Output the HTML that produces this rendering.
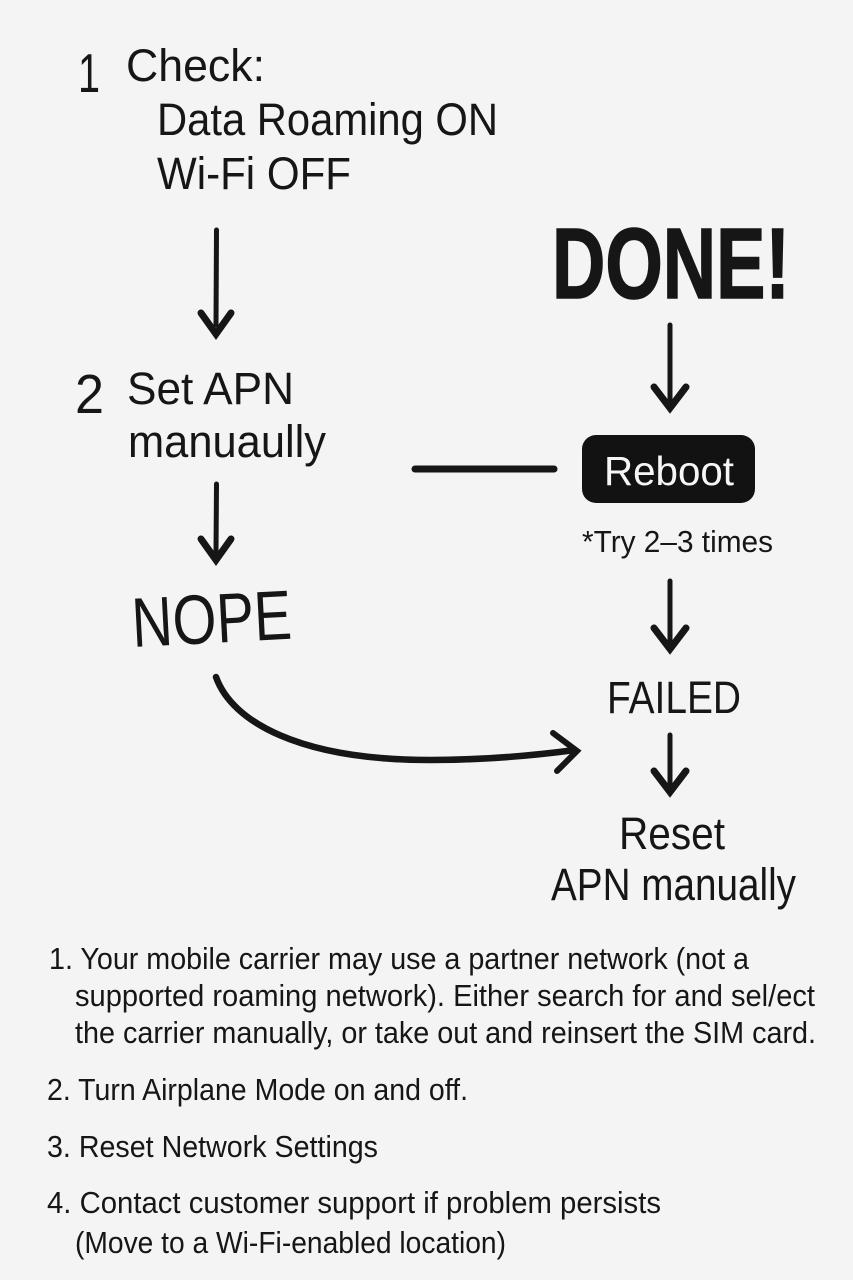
<!DOCTYPE html>
<html lang="en">
<head>
<meta charset="utf-8">
<title>APN troubleshooting flow</title>
<style>
html,body{margin:0;padding:0;background:#f4f4f4;width:853px;height:1280px;overflow:hidden}
svg{display:block}
text{font-family:"Liberation Sans",sans-serif;fill:#161616}
.h{font-size:45px}
.b{font-size:31px}
.s{fill:none;stroke:#161616;stroke-width:5;stroke-linecap:round}
.a{fill:none;stroke:#161616;stroke-width:7;stroke-linecap:round;stroke-linejoin:miter;stroke-miterlimit:6}
</style>
</head>
<body>
<svg width="853" height="1280" viewBox="0 0 853 1280" xmlns="http://www.w3.org/2000/svg">
<rect width="853" height="1280" fill="#f4f4f4"/>

<text x="78" y="92" font-size="55" textLength="22" lengthAdjust="spacingAndGlyphs">1</text>
<text class="h" x="126" y="81" textLength="139" lengthAdjust="spacingAndGlyphs">Check:</text>
<text class="h" x="157" y="135" textLength="341" lengthAdjust="spacingAndGlyphs">Data Roaming ON</text>
<text class="h" x="157" y="189" textLength="194" lengthAdjust="spacingAndGlyphs">Wi-Fi OFF</text>

<text x="75" y="413" font-size="55" textLength="29" lengthAdjust="spacingAndGlyphs">2</text>
<text class="h" x="127" y="404" textLength="167" lengthAdjust="spacingAndGlyphs">Set APN</text>
<text class="h" x="128" y="457" textLength="198" lengthAdjust="spacingAndGlyphs">manuaully</text>

<text x="552" y="298" font-size="100" font-weight="700" textLength="238" lengthAdjust="spacingAndGlyphs" stroke="#161616" stroke-width="1.500">DONE!</text>

<path class="s" d="M216.500 230L216 325"/><path class="a" d="M201 313L216 334L231 313"/>
<path class="s" d="M670 325V400"/><path class="a" d="M654 387L670 408L686 387"/>
<path class="s" d="M216.500 484L216 552"/><path class="a" d="M201 539L216 560L231 539"/>
<path class="s" d="M670 581V642"/><path class="a" d="M654 628L670 649L686 628"/>
<path class="s" d="M670 735V785"/><path class="a" d="M654 771L670 792L686 771"/>

<path d="M415 469H554" fill="none" stroke="#161616" stroke-width="7" stroke-linecap="round"/>

<rect x="582" y="435" width="173" height="68" rx="14" fill="#121212"/>
<text x="604" y="485" font-size="41" textLength="130" lengthAdjust="spacingAndGlyphs" style="fill:#f6f6f6">Reboot</text>

<text x="582" y="552" font-size="31" textLength="191" lengthAdjust="spacingAndGlyphs">*Try 2–3 times</text>

<text x="133" y="647" font-size="70" textLength="160" lengthAdjust="spacingAndGlyphs" transform="rotate(-3 133 647)">NOPE</text>

<path d="M216 677C232 722 300 760 430 760C480 760 530 756 575 750" fill="none" stroke="#161616" stroke-width="6.500" stroke-linecap="round"/>
<path class="a" style="stroke-width:6" d="M553 733L577 751L557 771"/>

<text class="h" x="607" y="713" textLength="134" lengthAdjust="spacingAndGlyphs">FAILED</text>
<text class="h" x="619" y="849" textLength="106" lengthAdjust="spacingAndGlyphs">Reset</text>
<text class="h" x="551" y="900" textLength="245" lengthAdjust="spacingAndGlyphs">APN manually</text>

<text class="b" x="49" y="969" textLength="700" lengthAdjust="spacingAndGlyphs">1. Your mobile carrier may use a partner network (not a</text>
<text class="b" x="75" y="1006" textLength="740" lengthAdjust="spacingAndGlyphs">supported roaming network). Either search for and sel/ect</text>
<text class="b" x="75" y="1043" textLength="741" lengthAdjust="spacingAndGlyphs">the carrier manually, or take out and reinsert the SIM card.</text>
<text class="b" x="47" y="1100" textLength="421" lengthAdjust="spacingAndGlyphs">2. Turn Airplane Mode on and off.</text>
<text class="b" x="47" y="1157" textLength="331" lengthAdjust="spacingAndGlyphs">3. Reset Network Settings</text>
<text class="b" x="47" y="1213" textLength="614" lengthAdjust="spacingAndGlyphs">4. Contact customer support if problem persists</text>
<text class="b" x="75" y="1253" textLength="431" lengthAdjust="spacingAndGlyphs">(Move to a Wi-Fi-enabled location)</text>
</svg>
</body>
</html>
